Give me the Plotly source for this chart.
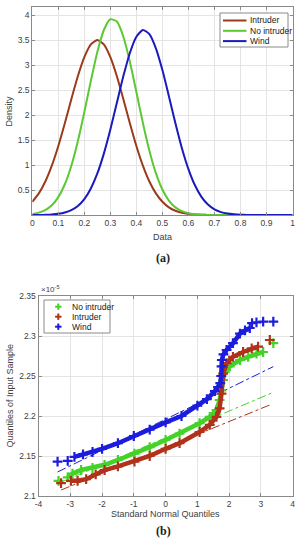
import plotly.graph_objects as go

# ---------------- (a) density curves ----------------
density_x = [0.000, 0.025, 0.050, 0.075, 0.100, 0.125, 0.150, 0.175, 0.200, 0.225,
             0.250, 0.275, 0.300, 0.325, 0.350, 0.375, 0.400, 0.425, 0.450, 0.475,
             0.500, 0.525, 0.550, 0.575, 0.600, 0.625, 0.650, 0.675, 0.700, 0.725,
             0.750, 0.775, 0.800, 0.825, 0.850, 0.875, 0.900, 0.925, 0.950, 0.975, 1.000]
intruder_density = [0.265, 0.432, 0.670, 0.987, 1.381, 1.835, 2.316, 2.774, 3.156, 3.411,
                    3.500, 3.411, 3.156, 2.774, 2.316, 1.835, 1.381, 0.987, 0.670, 0.432,
                    0.265, 0.154, 0.085, 0.045, 0.022, 0.010, 0.005, 0.002, 0.001, 0.0,
                    0.0, 0.0, 0.0, 0.0, 0.0, 0.0, 0.0, 0.0, 0.0, 0.0, 0.0]
no_intruder_density = [0.020, 0.047, 0.098, 0.194, 0.358, 0.615, 0.986, 1.475, 2.060, 2.683,
                       3.262, 3.700, 3.916, 3.868, 3.565, 3.065, 2.459, 1.841, 1.286, 0.838,
                       0.510, 0.289, 0.153, 0.076, 0.035, 0.015, 0.006, 0.002, 0.001, 0.0,
                       0.0, 0.0, 0.0, 0.0, 0.0, 0.0, 0.0, 0.0, 0.0, 0.0, 0.0]
wind_density = [0.001, 0.001, 0.004, 0.010, 0.023, 0.049, 0.097, 0.181, 0.319, 0.531,
                0.831, 1.228, 1.710, 2.244, 2.778, 3.241, 3.566, 3.700, 3.617, 3.334,
                2.898, 2.375, 1.835, 1.336, 0.918, 0.594, 0.363, 0.209, 0.113, 0.058,
                0.028, 0.013, 0.005, 0.002, 0.001, 0.0, 0.0, 0.0, 0.0, 0.0, 0.0]

a_xticks = [0, 0.1, 0.2, 0.3, 0.4, 0.5, 0.6, 0.7, 0.8, 0.9, 1]
a_xticklabels = ["0", "0.1", "0.2", "0.3", "0.4", "0.5", "0.6", "0.7", "0.8", "0.9", "1"]
a_yticks = [0.5, 1, 1.5, 2, 2.5, 3, 3.5, 4]
a_yticklabels = ["0.5", "1", "1.5", "2", "2.5", "3", "3.5", "4"]

# ---------------- (b) QQ plot (values in units of 1e-5) ----------------
wind_qx = [-3.40, -3.08, -2.87, -2.6, -2.3, -2.0, -1.5, -1.0, -0.5, 0.0, 0.5, 1.0, 1.3,
           1.55, 1.65, 1.72, 1.75, 1.76, 1.77, 1.82, 1.92, 2.12, 2.34, 2.5, 2.65,
           2.72, 2.86, 3.07, 3.39]
wind_qy = [2.143, 2.144, 2.149, 2.152, 2.155, 2.159, 2.166, 2.175, 2.183, 2.192, 2.200,
           2.213, 2.221, 2.231, 2.236, 2.241, 2.250, 2.262, 2.270, 2.277, 2.2825, 2.291,
           2.303, 2.307, 2.310, 2.316, 2.317, 2.318, 2.318]
no_intruder_qx = [-3.37, -3.08, -2.93, -2.66, -2.3, -1.92, -1.5, -0.98, -0.5, 0.0, 0.44,
                  1.07, 1.39, 1.60, 1.70, 1.76, 1.81, 1.86, 2.02, 2.34, 2.60, 2.86, 3.07, 3.39]
no_intruder_qy = [2.119, 2.1234, 2.128, 2.1325, 2.135, 2.139, 2.145, 2.153, 2.161, 2.170,
                  2.178, 2.191, 2.199, 2.2075, 2.220, 2.232, 2.245, 2.255, 2.262, 2.270,
                  2.274, 2.278, 2.280, 2.291]
intruder_qx = [-3.29, -2.98, -2.77, -2.50, -2.2, -1.92, -1.5, -0.98, -0.5, 0.0, 0.44,
               1.07, 1.39, 1.60, 1.70, 1.76, 1.81, 1.92, 2.12, 2.44, 2.71, 2.91, 3.28]
intruder_qy = [2.116, 2.119, 2.119, 2.121, 2.127, 2.1325, 2.137, 2.143, 2.150, 2.159,
               2.166, 2.180, 2.189, 2.199, 2.2096, 2.228, 2.253, 2.266, 2.274, 2.280,
               2.2845, 2.2866, 2.295]
# reference (fit) lines: end points
wind_ref_x = [-3.40, 3.39]
wind_ref_y = [2.130, 2.2617]
no_intruder_ref_x = [-3.37, 3.39]
no_intruder_ref_y = [2.116, 2.2296]
intruder_ref_x = [-3.29, 3.28]
intruder_ref_y = [2.1075, 2.2138]

b_xticks = [-4, -3, -2, -1, 0, 1, 2, 3, 4]
b_xticklabels = ["-4", "-3", "-2", "-1", "0", "1", "2", "3", "4"]
b_yticks = [2.1, 2.15, 2.2, 2.25, 2.3, 2.35]
b_yticklabels = ["2.1", "2.15", "2.2", "2.25", "2.3", "2.35"]

# ---------------- styling ----------------
W, H = 301, 550
FONT = "Liberation Sans, Arial, sans-serif"
SERIF = "Liberation Serif, Times New Roman, serif"
C_A_INTR = "#9c3a1c"
C_A_NOINT = "#5cc832"
C_A_WIND = "#1a1abe"
C_B_NOINT = "#44d22a"
C_B_INTR = "#b0321a"
C_B_WIND = "#1c1cdc"
AX = "#8a8a8a"
TXT = "#404040"


def px_x(p):
    return p / W


def px_y(p):
    return 1 - p / H


fig = go.Figure()

series_a = [("Intruder", intruder_density, C_A_INTR),
            ("No intruder", no_intruder_density, C_A_NOINT),
            ("Wind", wind_density, C_A_WIND)]
for name, ys, col in series_a:
    fig.add_trace(go.Scatter(x=density_x, y=ys, name=name, mode="lines", showlegend=False,
                             line=dict(color=col, width=2, shape="spline", smoothing=0.6),
                             xaxis="x", yaxis="y"))

series_b = [("No intruder", no_intruder_qx, no_intruder_qy, no_intruder_ref_x, no_intruder_ref_y, C_B_NOINT, 1, 1),
            ("Intruder", intruder_qx, intruder_qy, intruder_ref_x, intruder_ref_y, C_B_INTR, 1, 1),
            ("Wind", wind_qx, wind_qy, wind_ref_x, wind_ref_y, C_B_WIND, 2, 4)]

for name, qx, qy, rx, ry, col, s0, s1 in series_b:
    fig.add_trace(go.Scatter(x=rx, y=ry, mode="lines", showlegend=False,
                             line=dict(color=col, width=1, dash="dashdot"),
                             xaxis="x2", yaxis="y2"))
for name, qx, qy, rx, ry, col, s0, s1 in series_b:
    fig.add_trace(go.Scatter(x=qx[s0:len(qx) - s1], y=qy[s0:len(qy) - s1], mode="lines",
                             showlegend=False, line=dict(color=col, width=4.5),
                             xaxis="x2", yaxis="y2"))
    fig.add_trace(go.Scatter(x=qx, y=qy, name=name, mode="markers", showlegend=False,
                             marker=dict(symbol="cross-thin", size=7, color=col,
                                         line=dict(color=col, width=2.2)),
                             xaxis="x2", yaxis="y2"))

axis_common = dict(showgrid=True, gridcolor="#e4e4e4", gridwidth=1, zeroline=False,
                   showline=True, mirror="ticks", linecolor=AX, linewidth=1,
                   ticks="inside", ticklen=3, tickcolor=AX, automargin=False)
tick_font = dict(family=FONT, size=8.5, color=TXT)

# ---- legends (drawn as shapes + text) ----
shapes = []
annotations = []

# legend (a)
shapes.append(dict(type="rect", xref="paper", yref="paper",
                   x0=px_x(220), x1=px_x(288), y0=px_y(47), y1=px_y(13),
                   fillcolor="white", line=dict(color=AX, width=1), layer="above"))
for i, (name, ys, col) in enumerate(series_a):
    yy = px_y(20.5 + 10.3 * i)
    shapes.append(dict(type="line", xref="paper", yref="paper",
                       x0=px_x(223), x1=px_x(246.5), y0=yy, y1=yy,
                       line=dict(color=col, width=2), layer="above"))
    annotations.append(dict(text=name, x=px_x(248.5), y=yy, xref="paper", yref="paper",
                            xanchor="left", yanchor="middle", showarrow=False, borderpad=0,
                            font=dict(family=FONT, size=8.5, color="#202020")))

# legend (b) with "+" symbols drawn as small crosses
shapes.append(dict(type="rect", xref="paper", yref="paper",
                   x0=px_x(44), x1=px_x(110), y0=px_y(333), y1=px_y(300),
                   fillcolor="white", line=dict(color=AX, width=1), layer="above"))
for i, (name, qx, qy, rx, ry, col, s0, s1) in enumerate(series_b):
    cy = 306.7 + 10 * i
    cx = 58.3
    shapes.append(dict(type="line", xref="paper", yref="paper",
                       x0=px_x(cx - 3.2), x1=px_x(cx + 3.2), y0=px_y(cy), y1=px_y(cy),
                       line=dict(color=col, width=2), layer="above"))
    shapes.append(dict(type="line", xref="paper", yref="paper",
                       x0=px_x(cx), x1=px_x(cx), y0=px_y(cy - 3.2), y1=px_y(cy + 3.2),
                       line=dict(color=col, width=2), layer="above"))
    annotations.append(dict(text=name, x=px_x(70.5), y=px_y(cy), xref="paper", yref="paper",
                            xanchor="left", yanchor="middle", showarrow=False, borderpad=0,
                            font=dict(family=FONT, size=8.5, color="#202020")))

# axis titles and panel labels
title_font = dict(family=FONT, size=9, color=TXT)
annotations += [
    dict(text="Data", x=px_x(162), y=px_y(237), xref="paper", yref="paper",
         borderpad=0, showarrow=False, font=title_font),
    dict(text="Density", x=px_x(8.5), y=px_y(111), xref="paper", yref="paper",
         xanchor="center", yanchor="middle", borderpad=0,
         textangle=-90, showarrow=False, font=title_font),
    dict(text="Standard Normal Quantiles", x=px_x(166), y=px_y(520), xref="paper",
         yref="paper", borderpad=0, showarrow=False, font=title_font),
    dict(text="Quantiles of Input Sample", x=px_x(9.5), y=px_y(396), xref="paper",
         yref="paper", xanchor="center", yanchor="middle", borderpad=0,
         textangle=-90, showarrow=False, font=title_font),
    dict(text="<b>(a)</b>", x=px_x(163), y=px_y(258), xref="paper", yref="paper",
         showarrow=False, font=dict(family=SERIF, size=12, color="#202020")),
    dict(text="<b>(b)</b>", x=px_x(163), y=px_y(540), xref="paper", yref="paper",
         showarrow=False, font=dict(family=SERIF, size=12, color="#202020")),
    dict(text="×10<sup>-5</sup>", x=px_x(38.5), y=px_y(296), xref="paper", yref="paper",
         xanchor="left", yanchor="bottom", showarrow=False,
         font=dict(family=FONT, size=8, color=TXT)),
]

fig.update_layout(
    template="none",
    width=W, height=H, margin=dict(l=0, r=0, t=0, b=0, pad=0),
    paper_bgcolor="white", plot_bgcolor="white",
    font=dict(family=FONT, size=9, color=TXT),
    showlegend=False,
    xaxis=dict(domain=[px_x(32.3), px_x(292.5)], range=[0, 1], tickvals=a_xticks,
               ticktext=a_xticklabels, anchor="y", tickfont=tick_font, **axis_common),
    yaxis=dict(domain=[px_y(215), px_y(7)], range=[0, 4.16], tickvals=a_yticks,
               ticktext=a_yticklabels, anchor="x", tickfont=tick_font, **axis_common),
    xaxis2=dict(domain=[px_x(38.5), px_x(292.7)], range=[-4, 4], tickvals=b_xticks,
                ticktext=b_xticklabels, anchor="y2", tickfont=tick_font, **axis_common),
    yaxis2=dict(domain=[px_y(496), px_y(296)], range=[2.1, 2.35], tickvals=b_yticks,
                ticktext=b_yticklabels, anchor="x2", tickfont=tick_font, **axis_common),
    shapes=shapes,
    annotations=annotations,
)

# the page's default 8px body margin would shift the fixed-size figure; remove it
fig.write_html("out.html",
               config={"displayModeBar": False},
               post_script="document.body.style.margin='0px'; document.body.style.overflow='hidden';")
